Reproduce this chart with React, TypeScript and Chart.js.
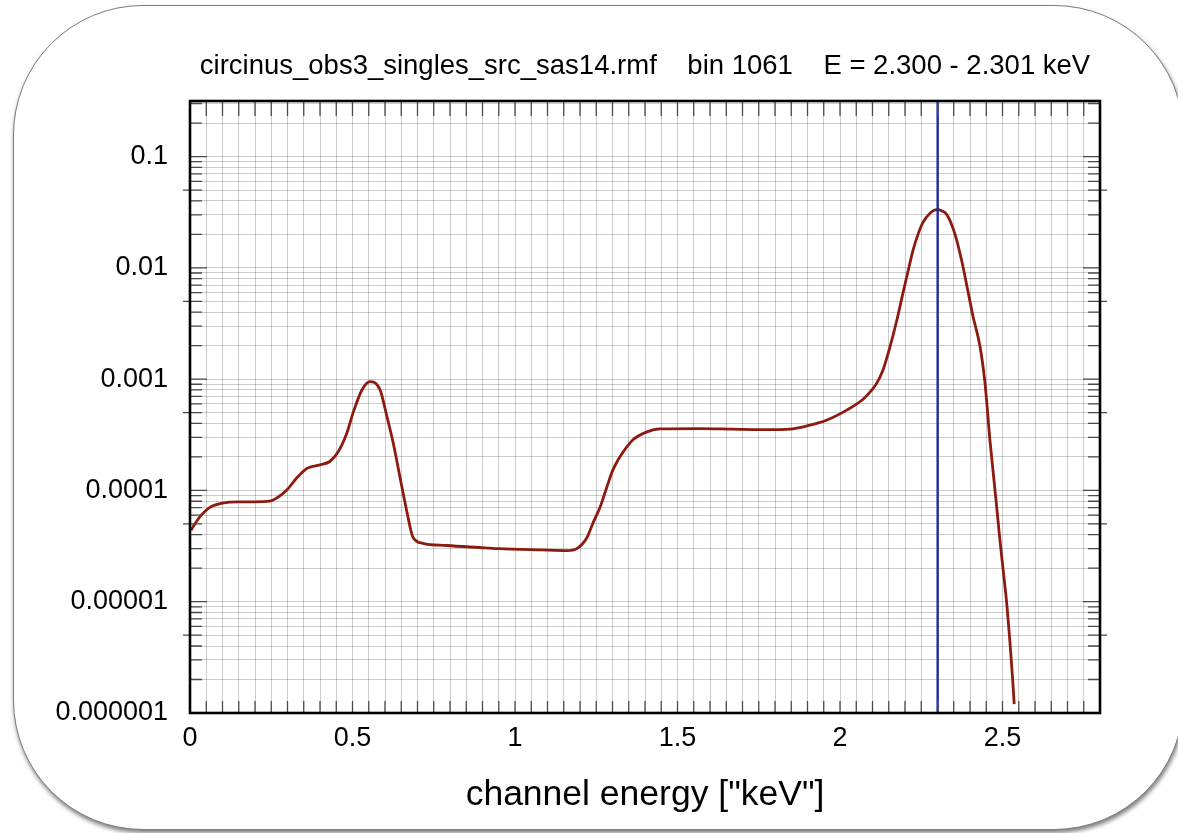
import React, { useEffect, useRef } from "react";
import { Chart, registerables } from "chart.js";

Chart.register(...registerables);

// Response of one RMF energy bin, sampled along channel energy (keV)
const energyKeV = [
  0.003, 0.03, 0.06, 0.1, 0.15, 0.2, 0.245, 0.268, 0.298, 0.329,
  0.36, 0.4, 0.43, 0.455, 0.483, 0.502, 0.529, 0.554, 0.585, 0.606,
  0.625, 0.646, 0.668, 0.686, 0.717, 0.79, 0.89, 0.95, 1.08, 1.16,
  1.19, 1.222, 1.24, 1.262, 1.283, 1.3, 1.318, 1.332, 1.363, 1.406, 1.446,
  1.57, 1.67, 1.775, 1.846, 1.898, 1.96, 2.022, 2.071, 2.098, 2.114,
  2.132, 2.154, 2.175, 2.194, 2.215, 2.225, 2.24, 2.255, 2.277, 2.298, 2.314,
  2.329, 2.354, 2.375, 2.394, 2.409, 2.431, 2.446, 2.462, 2.48, 2.492,
  2.502, 2.514, 2.523, 2.532, 2.536,
];

const response = [
  4.4e-5, 5.8e-5, 7.0e-5, 7.7e-5, 7.9e-5, 7.9e-5, 8.0e-5, 8.6e-5, 1.01e-4, 1.3e-4,
  1.58e-4, 1.7e-4, 1.82e-4, 2.2e-4, 3.3e-4, 5.0e-4, 8.0e-4, 9.5e-4, 8.0e-4, 4.6e-4,
  2.7e-4, 1.32e-4, 6.3e-5, 3.8e-5, 3.35e-5, 3.2e-5, 3.07e-5, 3.0e-5, 2.92e-5, 2.88e-5,
  3.0e-5, 3.8e-5, 5.1e-5, 7.1e-5, 1.08e-4, 1.5e-4, 1.9e-4, 2.2e-4, 2.85e-4, 3.36e-4, 3.58e-4,
  3.6e-4, 3.56e-4, 3.52e-4, 3.56e-4, 3.8e-4, 4.3e-4, 5.3e-4, 6.6e-4, 8.0e-4, 9.3e-4,
  1.2e-3, 1.96e-3, 3.4e-3, 6.0e-3, 1.1e-2, 1.45e-2, 2.0e-2, 2.55e-2, 3.1e-2, 3.34e-2, 3.25e-2,
  3.0e-2, 2.0e-2, 1.14e-2, 6.1e-3, 3.7e-3, 1.96e-3, 9.3e-4, 2.7e-4, 8.2e-5, 3.6e-5,
  1.93e-5, 9.0e-6, 4.3e-6, 1.86e-6, 1.2e-6,
];

// Selected bin energy (centre of 2.300 - 2.301 keV)
const selectedBinKeV = 2.3005;

const xMin = 0;
const xMax = 2.8;
const xStep = 0.05;
const xTickValues = [0, 0.5, 1, 1.5, 2, 2.5];
const xTickLabels = ["0", "0.5", "1", "1.5", "2", "2.5"];

const yMin = 1e-6;
const yMax = 0.316;
const yDecadeExponents = [-6, -5, -4, -3, -2, -1];
const yDecadeLabels = ["0.000001", "0.00001", "0.0001", "0.001", "0.01", "0.1"];

const titleText =
  "circinus_obs3_singles_src_sas14.rmf    bin 1061    E = 2.300 - 2.301 keV";
const xAxisTitle = 'channel energy ["keV"]';

const FONT = "'Liberation Sans', Arial, Helvetica, sans-serif";
const GRID = "rgba(0,0,0,0.2)";

const isDecade = (v: number) => {
  const l = Math.log10(v);
  return Math.abs(l - Math.round(l)) < 1e-6;
};

// Frame around the plot plus inward tick marks on all four sides
const plotFrame = {
  id: "plotFrame",
  afterDatasetsDraw(chart: any) {
    const { ctx, chartArea: a, scales } = chart;
    const xs = scales.x;
    const ys = scales.y;
    ctx.save();
    ctx.strokeStyle = "#4a4a4a";
    ctx.lineWidth = 1.3;
    ctx.beginPath();
    for (const t of xs.ticks) {
      const px = xs.getPixelForValue(t.value);
      ctx.moveTo(px, a.top);
      ctx.lineTo(px, a.top + 15);
      ctx.moveTo(px, a.bottom);
      ctx.lineTo(px, a.bottom - 12);
    }
    for (const t of ys.ticks) {
      const py = ys.getPixelForValue(t.value);
      const len = isDecade(t.value) ? 17 : 12;
      ctx.moveTo(a.left, py);
      ctx.lineTo(a.left + len, py);
      ctx.moveTo(a.right, py);
      ctx.lineTo(a.right - len, py);
      const mant = t.value / Math.pow(10, Math.floor(Math.log10(t.value) + 1e-9));
      if (Math.abs(mant - 5) < 1e-6) {
        ctx.moveTo(a.left - 7, py);
        ctx.lineTo(a.left, py);
        ctx.moveTo(a.right, py);
        ctx.lineTo(a.right + 7, py);
      }
    }
    ctx.stroke();
    ctx.lineWidth = 2.6;
    ctx.strokeStyle = "#000";
    ctx.strokeRect(a.left, a.top, a.right - a.left, a.bottom - a.top);
    ctx.restore();
  },
};

export default function App() {
  const canvasRef = useRef<HTMLCanvasElement>(null);

  useEffect(() => {
    const curve = energyKeV.map((e, i) => ({ x: e, y: response[i] }));
    const marker = [
      { x: selectedBinKeV, y: yMin },
      { x: selectedBinKeV, y: yMax },
    ];

    const chart = new Chart(canvasRef.current as HTMLCanvasElement, {
      type: "line",
      data: {
        datasets: [
          {
            data: marker,
            borderColor: "#1b2b98",
            borderWidth: 2.4,
            pointRadius: 0,
            fill: false,
          },
          {
            data: curve,
            borderColor: "#8c1a0e",
            borderWidth: 2.8,
            pointRadius: 0,
            fill: false,
            cubicInterpolationMode: "monotone",
          },
        ],
      },
      options: {
        animation: false,
        responsive: false,
        devicePixelRatio: 1,
        layout: { padding: { left: 0, right: 78, top: 0, bottom: 0 } },
        plugins: {
          legend: { display: false },
          tooltip: { enabled: false },
          title: {
            display: true,
            text: titleText,
            fullSize: false,
            color: "#000",
            font: { family: FONT, size: 27.5, weight: "normal" },
            padding: { top: 49.5, bottom: 18.5 },
          },
        },
        scales: {
          x: {
            type: "linear",
            min: xMin,
            max: xMax,
            border: { display: false },
            grid: { color: GRID, lineWidth: 1, drawTicks: false },
            afterBuildTicks: (scale: any) => {
              const ticks = [];
              const n = Math.round((xMax - xMin) / xStep);
              for (let i = 0; i <= n; i++) {
                ticks.push({ value: +(xMin + i * xStep).toFixed(3) });
              }
              scale.ticks = ticks;
            },
            afterFit: (scale: any) => {
              scale.height = 120;
            },
            ticks: {
              autoSkip: false,
              maxRotation: 0,
              padding: 9.8,
              color: "#000",
              font: { family: FONT, size: 27 },
              callback: (v: any) => {
                const idx = xTickValues.findIndex((t) => Math.abs(t - v) < 1e-6);
                return idx >= 0 ? xTickLabels[idx] : "";
              },
            },
            title: {
              display: true,
              text: xAxisTitle,
              color: "#000",
              font: { family: FONT, size: 35.5 },
              padding: { top: 0, bottom: 16.7 },
            },
          },
          y: {
            type: "logarithmic",
            min: yMin,
            max: yMax,
            border: { display: false },
            grid: { color: GRID, lineWidth: 1, drawTicks: false },
            afterBuildTicks: (scale: any) => {
              const ticks = [];
              for (const ex of yDecadeExponents) {
                for (let m = 1; m <= 9; m++) {
                  const v = m * Math.pow(10, ex);
                  if (v <= yMax) ticks.push({ value: v });
                }
              }
              scale.ticks = ticks;
            },
            afterFit: (scale: any) => {
              scale.width = 190;
            },
            ticks: {
              autoSkip: false,
              padding: 22,
              color: "#000",
              font: { family: FONT, size: 27 },
              callback: (v: any) => {
                const l = Math.log10(v);
                if (!isDecade(v)) return "";
                const idx = yDecadeExponents.indexOf(Math.round(l));
                return idx >= 0 ? yDecadeLabels[idx] : "";
              },
            },
          },
        },
      },
      plugins: [plotFrame],
    } as any);

    return () => chart.destroy();
  }, []);

  return (
    <div
      style={{
        position: "absolute",
        left: 0,
        top: 0,
        width: 1178,
        height: 833,
        overflow: "hidden",
        background: "#fff",
      }}
    >
      <div
        style={{
          position: "absolute",
          left: 13,
          top: 5,
          width: 1171,
          height: 825,
          boxSizing: "border-box",
          border: "1.5px solid #7c7c7c",
          borderRadius: 130,
          boxShadow: "1px 3px 4px rgba(0,0,0,0.5)",
          background: "#fff",
        }}
      />
      <canvas
        ref={canvasRef}
        width={1178}
        height={833}
        style={{ position: "absolute", left: 0, top: 0 }}
      />
    </div>
  );
}
